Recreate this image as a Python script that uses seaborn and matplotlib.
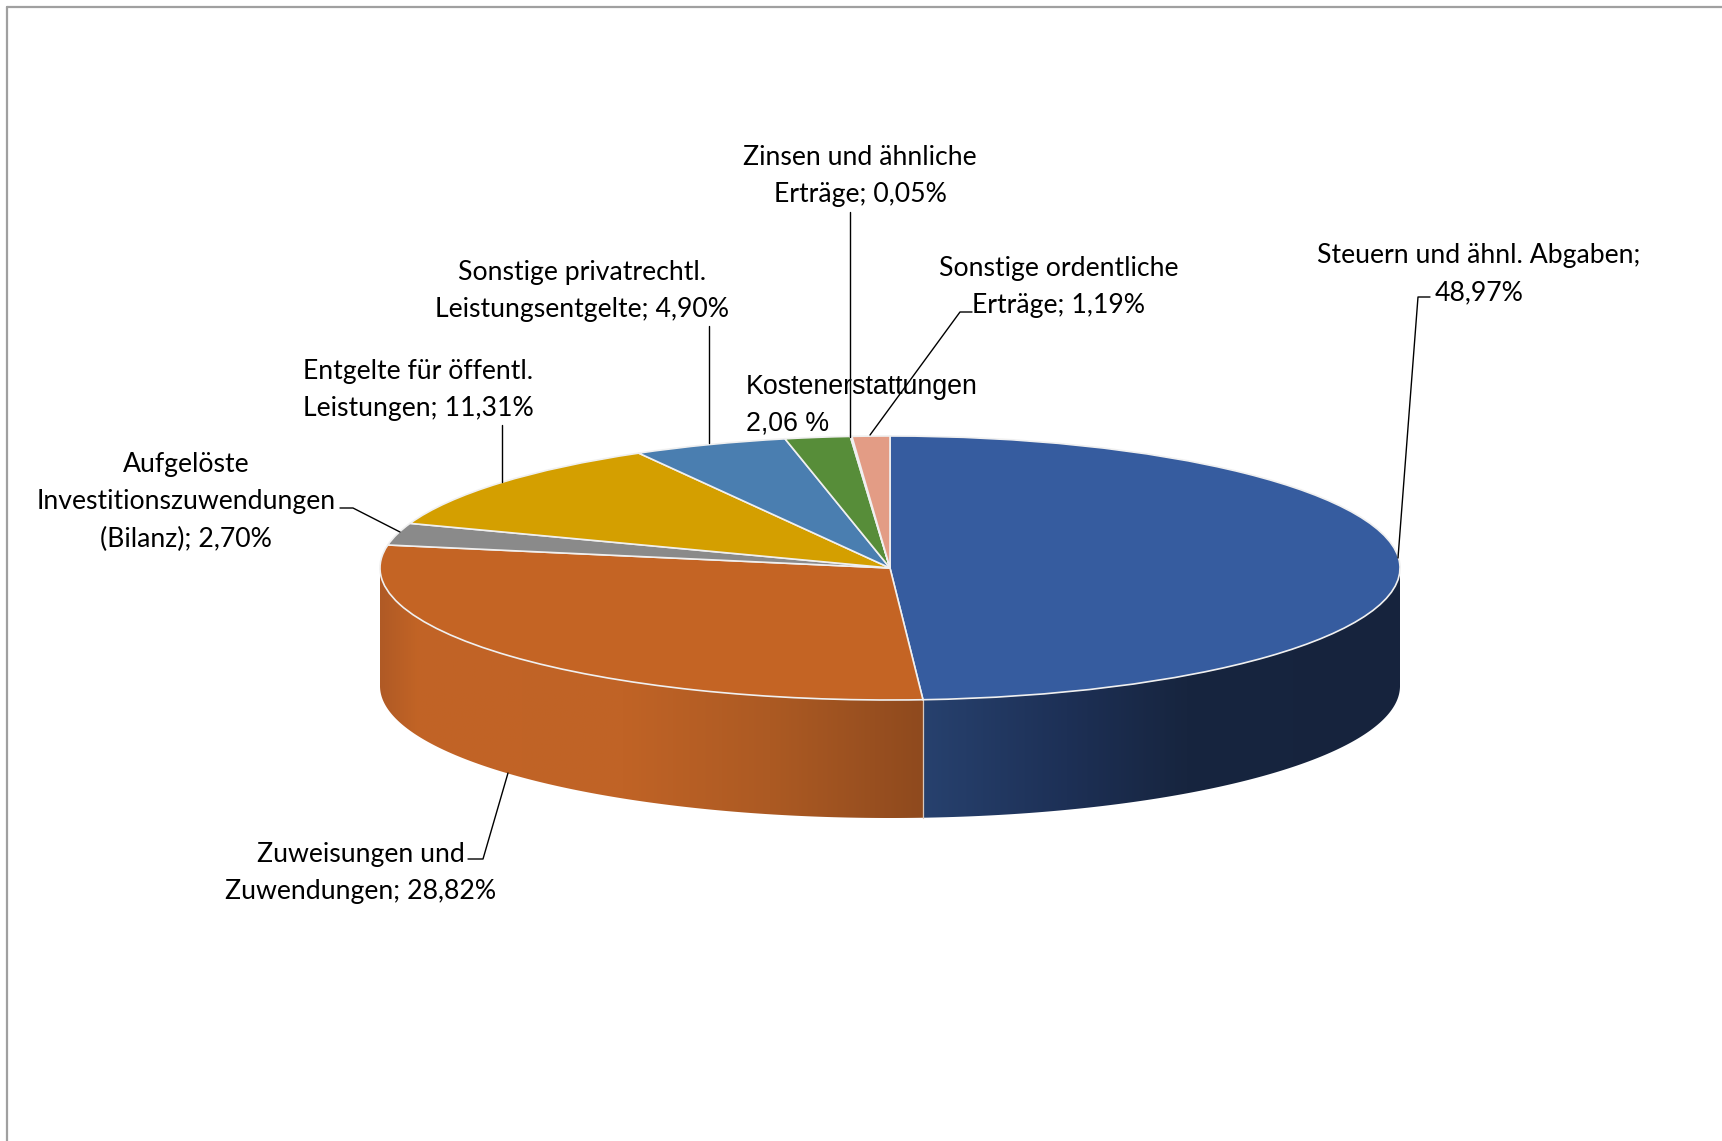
import numpy as np
import matplotlib
matplotlib.use('Agg')
import matplotlib.pyplot as plt
import seaborn as sns
from matplotlib.transforms import Affine2D
from matplotlib.patches import Polygon
from matplotlib.colors import LinearSegmentedColormap

# data
categories = ['Steuern und ähnl. Abgaben', 'Zuweisungen und\nZuwendungen',
              'Aufgelöste\nInvestitionszuwendungen\n(Bilanz)', 'Entgelte für öffentl.\nLeistungen',
              'Sonstige privatrechtl.\nLeistungsentgelte', 'Kostenerstattungen',
              'Zinsen und ähnliche\nErträge', 'Sonstige ordentliche\nErträge']
shares = [48.97, 28.82, 2.70, 11.31, 4.90, 2.06, 0.05, 1.19]
separators = [';\n', '; ', '; ', '; ', '; ', '\n', '; ', '; ']
pct_suffix = ['%', '%', '%', '%', '%', ' %', '%', '%']
top_colors = ['#365C9F', '#C46424', '#8A8A8A', '#D49F00', '#4A7EB0', '#578D39', '#EEF2F7', '#E39C85']
# shading of the visible rim (position along rim, colour), left -> right
side_colors = {0: [(0, '#27416E'), (0.3, '#1D3056'), (0.55, '#17253F'), (1, '#16233D')],
               1: [(0, '#B05A25'), (0.07, '#C26426'), (0.45, '#C06326'),
                   (0.72, '#AC5A23'), (1, '#8F4A1E')]}

sns.set_theme(style='white')
plt.rcParams['font.family'] = ['Lato', 'DejaVu Sans']

W, H = 1722, 1141
fig = plt.figure(figsize=(W / 100, H / 100), dpi=100)
ax = fig.add_axes([0, 0, 1, 1])

# ellipse geometry of the tilted pie (pixels)
cx, cy, a, b, depth = 890, 568, 510, 132, 118

# top face: regular pie, squashed into an ellipse
to_screen = Affine2D().scale(a, -b).translate(cx, cy) + ax.transData
wedges, _ = ax.pie(shares, startangle=90, counterclock=False, colors=top_colors,
                   wedgeprops=dict(edgecolor='#F0F0F0', linewidth=1.2))
for w in wedges:
    w.set_transform(to_screen)
    w.set_zorder(3)

ax.set_aspect('auto')
ax.axis('off')

# rim of the front half
cum = np.concatenate([[0], np.cumsum(shares)])
for i, cols in side_colors.items():
    t_hi = 90 - 3.6 * cum[i]
    t_lo = 90 - 3.6 * cum[i + 1]
    lo, hi = max(t_lo, -180), min(t_hi, 0)
    if lo >= hi:
        continue
    ts = np.radians(np.linspace(lo, hi, 300))
    xs = cx + a * np.cos(ts)
    ys = cy - b * np.sin(ts)
    pts = np.column_stack([np.concatenate([xs, xs[::-1]]),
                           np.concatenate([ys, ys[::-1] + depth])])
    poly = Polygon(pts, closed=True, facecolor='none', edgecolor='none')
    ax.add_patch(poly)
    cmap = LinearSegmentedColormap.from_list(f'rim{i}', cols)
    grad = np.linspace(0, 1, 256)[None, :]
    im = ax.imshow(grad, cmap=cmap, aspect='auto', interpolation='bilinear',
                   extent=(xs.min(), xs.max(), ys.max() + depth, ys.min()), zorder=1)
    im.set_clip_path(poly)

# separator on the rim between the two big slices
t_split = np.radians(90 - 3.6 * cum[1])
xsplit = cx + a * np.cos(t_split)
ysplit = cy - b * np.sin(t_split)
ax.plot([xsplit, xsplit], [ysplit, ysplit + depth], color='#D8C8BC', lw=0.9, zorder=2)
ax.set_xlim(0, W)
ax.set_ylim(H, 0)

# labels
labels = [c + s + f'{v:.2f}'.replace('.', ',') + p
          for c, s, v, p in zip(categories, separators, shares, pct_suffix)]
label_pos = [(1479, 274), (361, 873), (186, 502), (418, 390),
             (582, 291), (746, 405), (860, 176), (1059, 287)]
leaders = [[(1430, 297), (1418, 297), (1398, 558)],
           [(468, 859), (483, 859), (508, 773)],
           [(340, 508), (353, 508), (400, 532)],
           [(502, 425), (502, 482)],
           [(709, 326), (709, 443)],
           None,
           [(850, 212), (850, 437)],
           [(972, 312), (960, 312), (870, 435)]]

for i, (lab, (x, y)) in enumerate(zip(labels, label_pos)):
    if categories[i] == 'Kostenerstattungen':
        ax.text(x, y, lab, ha='left', va='center', fontsize=19.3, linespacing=1.5,
                family=['Liberation Sans', 'DejaVu Sans'], color='black', zorder=5)
    else:
        ax.text(x, y, lab, ha='center', va='center', fontsize=19.2, linespacing=1.62,
                color='black', zorder=5)
    if leaders[i] is not None:
        lx, ly = zip(*leaders[i])
        ax.plot(lx, ly, color='black', lw=1.0, zorder=4)

# chart area border (top and left visible)
ax.plot([6.5, 6.5], [H, 6.5], color='#A0A0A0', lw=1.6, zorder=6)
ax.plot([6.5, W], [6.5, 6.5], color='#A0A0A0', lw=1.6, zorder=6)

fig.savefig('out.png', dpi=100, facecolor='white')
